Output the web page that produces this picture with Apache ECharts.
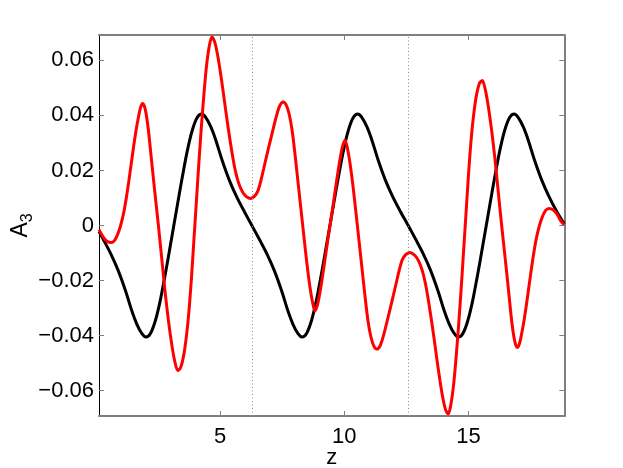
<!DOCTYPE html>
<html>
<head>
<meta charset="utf-8">
<script src="https://cdn.jsdelivr.net/npm/echarts@6/dist/echarts.min.js"></script>
<style>
html,body{margin:0;padding:0;background:#fff;}
#chart{width:623px;height:468px;}
</style>
</head>
<body>
<div id="chart"></div>
<script>
// ---- data ----
const zBlack = [0.13,0.3,0.6,0.9,1.2,1.45,1.65,1.85,2.02,2.2,2.4,2.6,2.8,3.0,3.14,3.28,3.48,3.68,3.88,4.08,4.26,4.43,4.63,4.83,5.08,5.38,5.68,5.98,6.28,
  6.58,6.88,7.18,7.48,7.73,7.93,8.13,8.30,8.48,8.68,8.88,9.08,9.28,9.42,9.56,9.76,9.96,10.16,10.36,10.54,10.71,10.91,11.11,11.36,11.66,11.96,12.26,12.57,
  12.87,13.17,13.47,13.77,14.02,14.22,14.42,14.59,14.77,14.97,15.17,15.37,15.57,15.71,15.85,16.05,16.25,16.45,16.65,16.83,17.00,17.20,17.40,17.65,17.95,18.25,18.55,18.85];
const aBlack = [-0.0022,-0.005,-0.0102,-0.0163,-0.0238,-0.031,-0.0358,-0.0392,-0.0405,-0.0392,-0.0345,-0.027,-0.0175,-0.0073,0,0.0073,0.0175,0.027,0.0345,0.0392,0.0405,0.0392,0.0358,0.031,0.0238,0.0163,0.0102,0.005,0,
  -0.005,-0.0102,-0.0163,-0.0238,-0.031,-0.0358,-0.0392,-0.0405,-0.0392,-0.0345,-0.027,-0.0175,-0.0073,0,0.0073,0.0175,0.027,0.0345,0.0392,0.0405,0.0392,0.0358,0.031,0.0238,0.0163,0.0102,0.005,0,
  -0.005,-0.0102,-0.0163,-0.0238,-0.031,-0.0358,-0.0392,-0.0405,-0.0392,-0.0345,-0.027,-0.0175,-0.0073,0,0.0073,0.0175,0.027,0.0345,0.0392,0.0405,0.0392,0.0358,0.031,0.0238,0.0163,0.0102,0.005,0.0005];

const zRed = [0.13,0.30,0.45,0.62,0.75,0.88,1.00,1.12,1.22,1.32,1.42,1.52,1.62,1.72,1.80,1.88,1.96,2.04,2.12,2.20,2.36,2.52,2.66,2.80,2.93,3.05,3.17,3.30,3.42,3.54,3.65,3.75,3.85,3.95,4.05,4.15,4.25,4.35,4.45,4.56,4.67,4.78,4.89,5.00,5.12,5.24,5.36,5.48,5.60,5.72,5.85,6.00,6.22,6.38,6.52,6.64,6.76,6.88,7.00,7.13,7.26,7.40,7.54,7.66,7.78,7.90,8.02,8.14,8.26,8.38,8.50,8.62,8.72,8.82,8.92,9.02,9.12,9.22,9.32,9.425,
  9.53,9.63,9.73,9.83,9.93,10.03,10.13,10.23,10.35,10.47,10.59,10.71,10.83,10.95,11.07,11.19,11.31,11.45,11.59,11.72,11.85,11.97,12.09,12.21,12.33,12.47,12.63,12.85,13.00,13.13,13.25,13.37,13.49,13.61,13.73,13.85,13.96,14.07,14.18,14.29,14.40,14.50,14.60,14.70,14.80,14.90,15.00,15.10,15.20,15.31,15.43,15.55,15.68,15.80,15.92,16.05,16.19,16.33,16.49,16.65,16.73,16.81,16.89,16.97,17.05,17.13,17.23,17.33,17.43,17.53,17.63,17.73,17.85,17.97,18.10,18.23,18.40,18.55,18.72,18.85];
const aRed = [-0.0015,-0.0042,-0.0057,-0.0062,-0.0055,-0.0032,0.0000,0.0045,0.0095,0.0155,0.0220,0.0285,0.0345,0.0395,0.0428,0.0443,0.0432,0.0398,0.0345,0.0275,0.0135,0.0000,-0.0125,-0.0250,-0.0350,-0.0428,-0.0490,-0.0527,-0.0515,-0.0470,-0.0400,-0.0310,-0.0190,-0.0050,0.0090,0.0230,0.0360,0.0475,0.0575,0.0648,0.0685,0.0668,0.0625,0.0565,0.0490,0.0410,0.0335,0.0265,0.0205,0.0162,0.0131,0.0110,0.0098,0.0106,0.0125,0.0162,0.0208,0.0255,0.0300,0.0348,0.0395,0.0435,0.0449,0.0438,0.0405,0.0345,0.0255,0.0155,0.0055,-0.0045,-0.0142,-0.0225,-0.0278,-0.0310,-0.0288,-0.0243,-0.0186,-0.0125,-0.0062,0.0000,
  0.0062,0.0125,0.0186,0.0243,0.0288,0.0310,0.0278,0.0225,0.0142,0.0045,-0.0055,-0.0155,-0.0255,-0.0345,-0.0405,-0.0438,-0.0449,-0.0435,-0.0395,-0.0348,-0.0300,-0.0255,-0.0208,-0.0162,-0.0125,-0.0106,-0.0098,-0.0110,-0.0131,-0.0162,-0.0205,-0.0265,-0.0335,-0.0410,-0.0490,-0.0565,-0.0625,-0.0668,-0.0685,-0.0648,-0.0575,-0.0475,-0.0360,-0.0230,-0.0090,0.0050,0.0190,0.0310,0.0400,0.0470,0.0515,0.0527,0.0490,0.0428,0.0350,0.0250,0.0125,0.0000,-0.0135,-0.0275,-0.0345,-0.0398,-0.0432,-0.0443,-0.0428,-0.0395,-0.0345,-0.0285,-0.0220,-0.0155,-0.0095,-0.0045,0.0000,0.0032,0.0055,0.0062,0.0057,0.0042,0.0015,0.0003];

const xTicks = [5, 10, 15];
const yTicks = [-0.06, -0.04, -0.02, 0, 0.02, 0.04, 0.06];
const markZ = [6.2832, 12.5664];

// ---- chart ----
const FONT = "'Liberation Sans', Arial, Helvetica, sans-serif";
const GRAY = '#808080';
const pairs = (xs, ys) => xs.map((x, i) => [x, ys[i]]);
const fmtY = v => {
  if (Math.abs(v) < 1e-9) return '0';
  return (v < 0 ? '\u2212' : '') + Math.abs(v).toFixed(2);
};

const chart = echarts.init(document.getElementById('chart'), null, {renderer: 'canvas'});
const X0 = 0.13, X1 = 18.85, Y0 = -0.0692, Y1 = 0.0692;

chart.setOption({
  backgroundColor: '#ffffff',
  animation: false,
  grid: {left: 99, right: 58.7, top: 35, bottom: 52, containLabel: false, outerBoundsMode: 'none'},
  xAxis: [
    {
      type: 'value', position: 'bottom', min: X0, max: X1,
      axisLine: {show: true, onZero: false, lineStyle: {color: GRAY, width: 2}},
      axisTick: {show: true, inside: true, length: 5, customValues: xTicks, lineStyle: {color: GRAY, width: 1}},
      axisLabel: {show: true, customValues: xTicks, margin: 10, color: '#000', fontSize: 22, fontFamily: FONT},
      splitLine: {show: false},
      name: 'z', nameLocation: 'middle', nameGap: 31, nameMoveOverlap: false,
      nameTextStyle: {color: '#000', fontSize: 22, fontFamily: FONT}
    },
    {
      type: 'value', position: 'top', min: X0, max: X1,
      axisLine: {show: true, onZero: false, lineStyle: {color: GRAY, width: 2}},
      axisTick: {show: true, inside: true, length: 5, customValues: xTicks, lineStyle: {color: GRAY, width: 1}},
      axisLabel: {show: false},
      splitLine: {show: false}
    }
  ],
  yAxis: [
    {
      type: 'value', position: 'left', min: Y0, max: Y1,
      axisLine: {show: true, onZero: false, lineStyle: {color: '#000', width: 1}},
      axisTick: {show: true, inside: true, length: 5, customValues: yTicks, lineStyle: {color: GRAY, width: 1}},
      axisLabel: {show: true, customValues: yTicks, margin: 5, color: '#000', fontSize: 22, fontFamily: FONT, formatter: fmtY},
      splitLine: {show: false},
      name: '{a|A}{s|3}', nameLocation: 'middle', nameGap: 63, nameRotate: 90, nameMoveOverlap: false,
      nameTextStyle: {
        color: '#000', fontFamily: FONT,
        rich: {
          a: {fontSize: 23, fontFamily: FONT, color: '#000', lineHeight: 30, verticalAlign: 'middle'},
          s: {fontSize: 16, fontFamily: FONT, color: '#000', lineHeight: 30, verticalAlign: 'bottom'}
        }
      }
    },
    {
      type: 'value', position: 'right', min: Y0, max: Y1,
      axisLine: {show: true, onZero: false, lineStyle: {color: GRAY, width: 2}},
      axisTick: {show: true, inside: true, length: 5, customValues: yTicks, lineStyle: {color: GRAY, width: 1}},
      axisLabel: {show: false},
      splitLine: {show: false}
    }
  ],
  series: [
    {
      type: 'line', name: 'black', xAxisIndex: 0, yAxisIndex: 0,
      data: pairs(zBlack, aBlack), showSymbol: false, smooth: 0.3,
      lineStyle: {color: '#000', width: 3}, z: 2, clip: true,
      markLine: {
        silent: true, symbol: ['none', 'none'], label: {show: false},
        lineStyle: {color: '#8a8a8a', width: 1, type: [1, 2.5]},
        data: markZ.map(v => ({xAxis: v}))
      }
    },
    {
      type: 'line', name: 'red', xAxisIndex: 0, yAxisIndex: 0,
      data: pairs(zRed, aRed), showSymbol: false, smooth: 0.3,
      lineStyle: {color: '#ff0000', width: 3}, z: 3, clip: true
    }
  ]
});
</script>
</body>
</html>
